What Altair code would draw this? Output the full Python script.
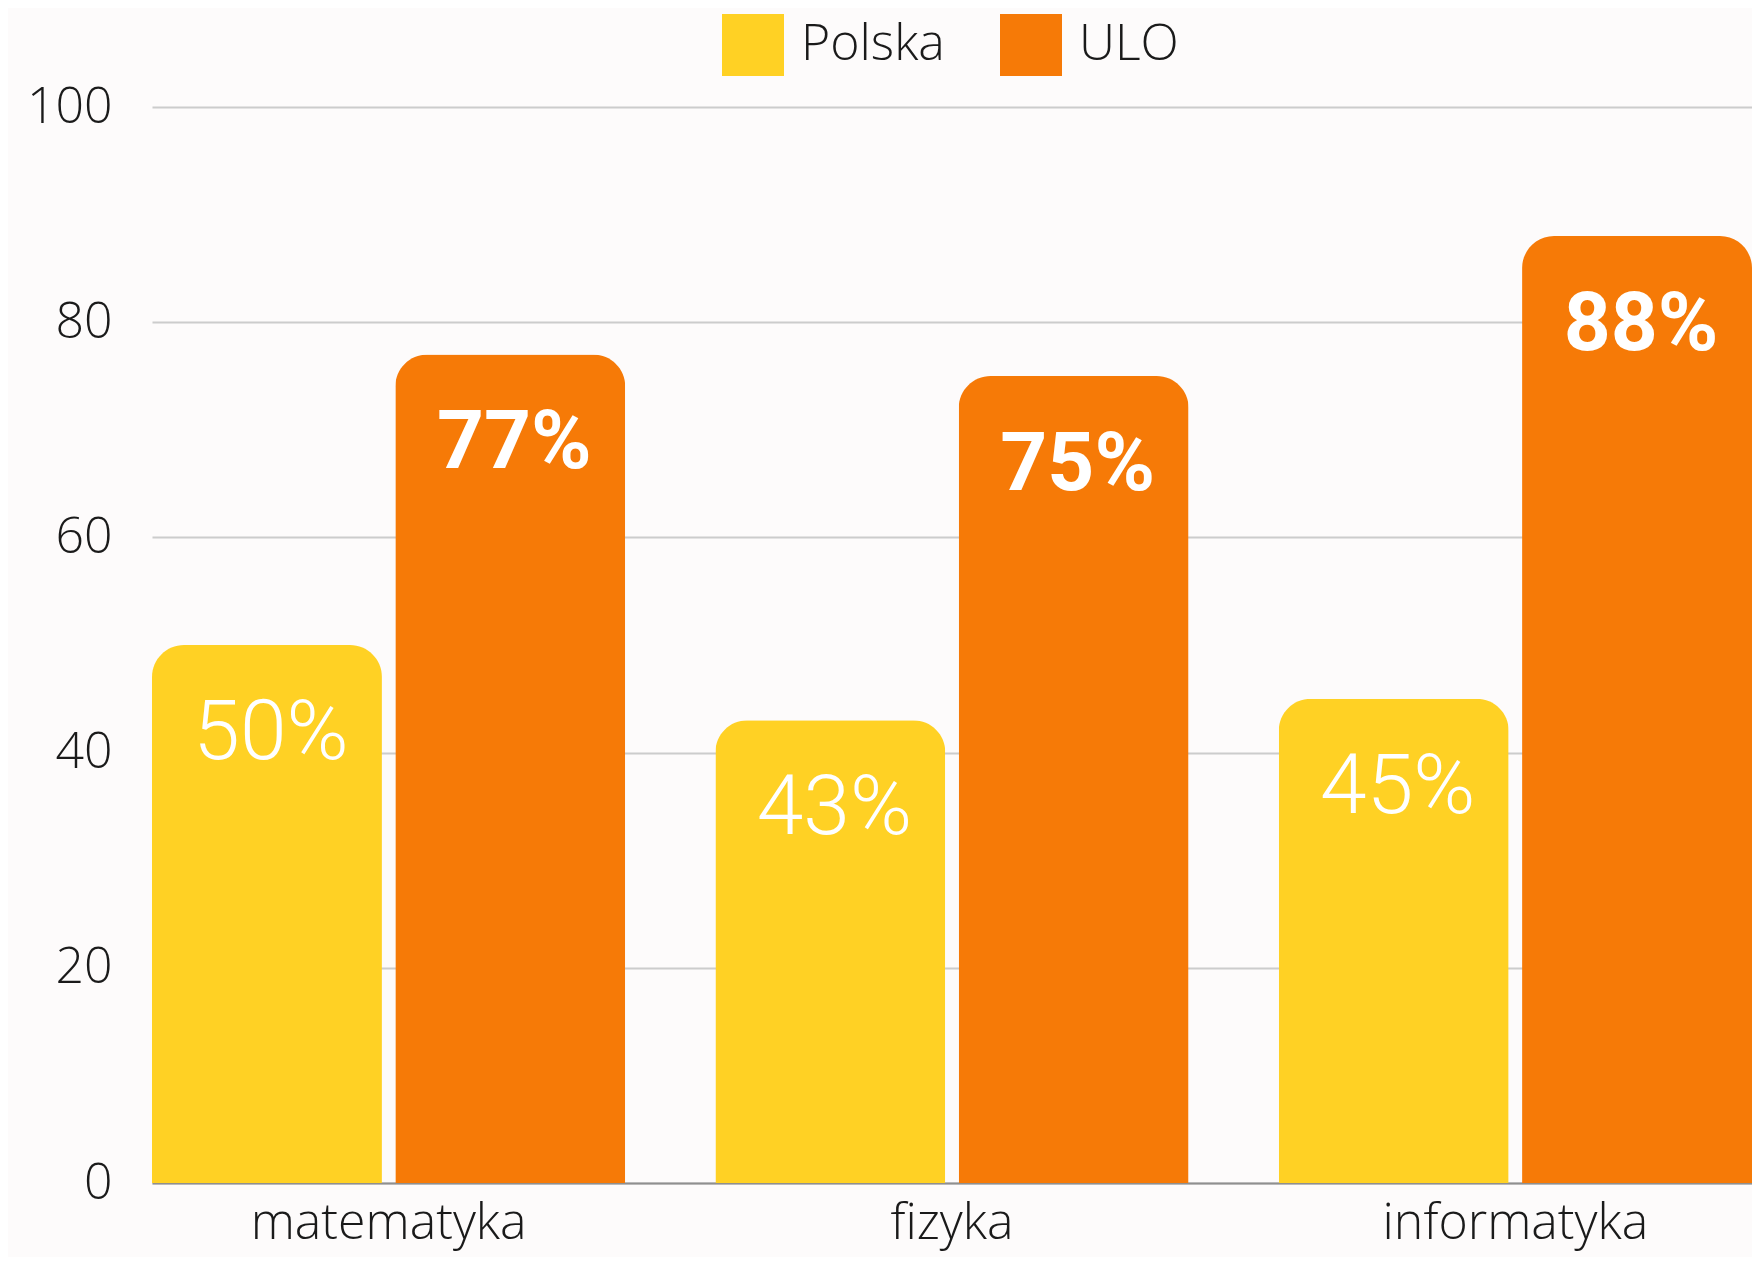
import altair as alt
import pandas as pd

subjects = ["matematyka", "fizyka", "informatyka"]
series = ["Polska", "ULO"]
polska = [50, 43, 45]
ulo = [77, 75, 88]
colors = ["#FFD124", "#F67A07"]
y_ticks = [0, 20, 40, 60, 80, 100]

rows = []
for s, vals in zip(series, [polska, ulo]):
    for subj, v in zip(subjects, vals):
        rows.append({"subject": subj, "series": s, "value": v, "label": f"{v}%"})
df = pd.DataFrame(rows)

x_enc = alt.X(
    "subject:N",
    sort=subjects,
    title=None,
    scale=alt.Scale(paddingInner=0.16, paddingOuter=0),
    axis=alt.Axis(
        labelAngle=0,
        labelFont="Open Sans",
        labelFontWeight=300,
        labelFontSize=50,
        labelColor="#1a1a1a",
        labelBaseline="top",
        labelPadding=15,
        labelLimit=0,
        ticks=False,
        domain=True,
        domainColor="#8f8f8f",
        domainWidth=2,
        grid=False,
    ),
)
xoff = alt.XOffset(
    "series:N", sort=series, scale=alt.Scale(paddingInner=0.055, paddingOuter=0)
)
y_enc = alt.Y(
    "value:Q",
    title=None,
    scale=alt.Scale(domain=[0, 100], nice=False),
    axis=alt.Axis(
        values=y_ticks,
        labelFont="Open Sans",
        labelFontWeight=300,
        labelFontSize=50,
        labelColor="#1a1a1a",
        labelPadding=40,
        ticks=False,
        domain=False,
        grid=True,
        gridColor="#cccccc",
        gridWidth=2,
    ),
)

base = alt.Chart(df)

bars = base.mark_bar(cornerRadiusTopLeft=32, cornerRadiusTopRight=32).encode(
    x=x_enc,
    xOffset=xoff,
    y=y_enc,
    color=alt.Color(
        "series:N",
        sort=series,
        scale=alt.Scale(domain=series, range=colors),
        legend=alt.Legend(
            title=None,
            orient="none",
            direction="horizontal",
            legendX=570,
            legendY=-93,
            symbolType="square",
            symbolSize=3844,
            symbolStrokeWidth=0,
            symbolOpacity=1,
            labelFont="Open Sans",
            labelFontWeight=300,
            labelFontSize=50,
            labelColor="#1a1a1a",
            labelOffset=17,
            columnPadding=55,
            padding=0,
        ),
    ),
)

text_p = (
    base.transform_filter(alt.datum.series == "Polska")
    .mark_text(
        font="Roboto",
        fontWeight=300,
        fontSize=84,
        color="white",
        align="center",
        baseline="alphabetic",
        dy=114,
        dx=4,
    )
    .encode(x=alt.X("subject:N", sort=subjects), xOffset=xoff, y="value:Q", text="label:N")
)
text_u = (
    base.transform_filter(alt.datum.series == "ULO")
    .mark_text(
        font="Roboto",
        fontWeight="bold",
        fontSize=82,
        color="white",
        align="center",
        baseline="alphabetic",
        dy=114,
        dx=4,
    )
    .encode(x=alt.X("subject:N", sort=subjects), xOffset=xoff, y="value:Q", text="label:N")
)

chart = (
    alt.layer(bars, text_p, text_u)
    .properties(
        width=1600,
        height=1076,
        autosize=alt.AutoSizeParams(type="none"),
        padding={"left": 144, "top": 99, "right": 0, "bottom": 74},
        background="#FDFBFB",
    )
    .configure_view(stroke=None)
)

chart.save("out.html", embed_options={"renderer": "svg", "actions": False})
